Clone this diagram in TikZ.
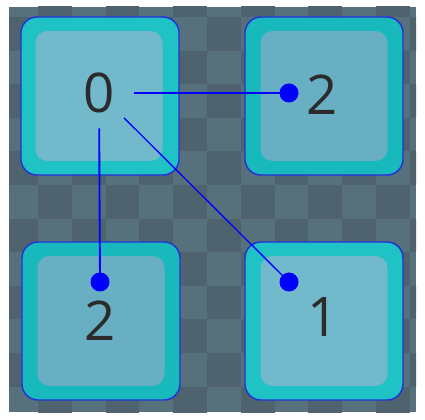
\documentclass[tikz,border=0pt]{standalone}
\usepackage{fontspec}
\setmainfont{Open Sans}
\definecolor{chklight}{HTML}{56707C}
\definecolor{chkdark}{HTML}{4E636D}
\definecolor{tileouter}{HTML}{1FC2C5}
\definecolor{tileinner}{HTML}{72B9CC}
\definecolor{tileouterdim}{HTML}{17B9BC}
\definecolor{tileinnerdim}{HTML}{69AFC3}
\definecolor{tileedge}{HTML}{2233D8}
\definecolor{digit}{HTML}{2B2B2B}
\definecolor{link}{HTML}{0000FF}
\tikzset{
  tile/.style={draw=tileedge, line width=1.1pt, fill=tileouter, rounded corners=12pt,
    minimum width=158*0.75pt, minimum height=158*0.75pt, inner sep=0pt},
  face/.style={fill=tileinner, rounded corners=9pt,
    minimum width=127*0.75pt, minimum height=130*0.75pt, inner sep=0pt},
  num/.style={circle, minimum size=70*0.75pt, inner sep=0pt, text=digit,
    font=\fontsize{41}{41}\selectfont},
  dot/.style={circle, fill=link, minimum size=19*0.75pt, inner sep=0pt},
  link/.style={draw=link, line width=1.4pt}
}
\begin{document}
\begin{tikzpicture}[x=0.75pt, y=-0.75pt]
\fill[white] (0,0) rectangle (425,420);
% checker background
\fill[chklight] (9,7) rectangle (416,412);
\begin{scope}
\clip (9,7) rectangle (416,412);
\foreach \c in {0,...,12} {
  \foreach \r in {-1,...,12} {
    \pgfmathtruncatemacro{\odd}{mod(\c+\r+2,2)}
    \ifnum\odd=0
      \fill[chkdark] ({4.1+33.8*\c},{17+33.6*\r}) rectangle +(33.8,33.6);
    \fi
  }
}
\end{scope}
% tiles
\node[tile] (t0) at (100,96) {};
\node[tile, fill=tileouterdim] (t1) at (324,96) {};
\node[tile, fill=tileouterdim] (t2) at (101,321) {};
\node[tile] (t3) at (324,321) {};
\node[face] (f0) at (99,96) {};
\node[face, fill=tileinnerdim] (f1) at (324,96) {};
\node[face, fill=tileinnerdim] (f2) at (101,321) {};
\node[face] (f3) at (324,321) {};
% digits
\node[num] (n0) at (99,93) {0};
\node[num] (n1) at (322,95) {2};
\node[num] (n2) at (100,321) {2};
\node[num] (n3) at (323,317) {1};
% links
\node[dot] (d1) at (289,93) {};
\node[dot] (d2) at (100,282) {};
\node[dot] (d3) at (289,282) {};
\draw[link] (n0) -- (d1.center);
\draw[link] (n0) -- (d2.center);
\draw[link, line width=1pt] (n0) -- (d3.center);
\end{tikzpicture}
\end{document}
